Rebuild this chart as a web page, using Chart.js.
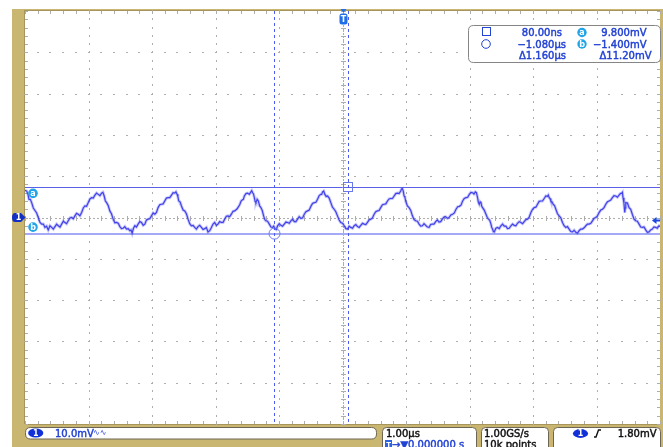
<!DOCTYPE html>
<html>
<head>
<meta charset="utf-8">
<script src="https://cdn.jsdelivr.net/npm/chart.js@4.4.1/dist/chart.umd.min.js"></script>
<style>
  html, body { margin: 0; padding: 0; background: #fff; }
  canvas { display: block; }
</style>
</head>
<body>
<canvas id="scope" width="663" height="447"></canvas>
<script>
// Channel 1 acquisition: time in microseconds, level in millivolts
const timeUs = [
  -5.000, -4.973, -4.955, -4.937, -4.916, -4.895, -4.869, -4.843, -4.817, -4.791,
  -4.764, -4.737, -4.711, -4.686, -4.660, -4.634, -4.607, -4.580, -4.554, -4.528,
  -4.502, -4.476, -4.449, -4.423, -4.397, -4.371, -4.345, -4.319, -4.292, -4.266,
  -4.240, -4.214, -4.188, -4.162, -4.135, -4.108, -4.082, -4.057, -4.031, -4.005,
  -3.978, -3.951, -3.925, -3.899, -3.873, -3.847, -3.820, -3.794, -3.773, -3.753,
  -3.734, -3.715, -3.690, -3.664, -3.638, -3.612, -3.585, -3.558, -3.532, -3.506,
  -3.480, -3.454, -3.428, -3.401, -3.375, -3.349, -3.331, -3.313, -3.292, -3.270,
  -3.245, -3.219, -3.192, -3.165, -3.139, -3.113, -3.087, -3.061, -3.035, -3.008,
  -2.982, -2.956, -2.930, -2.904, -2.878, -2.851, -2.825, -2.799, -2.773, -2.747,
  -2.720, -2.693, -2.668, -2.642, -2.623, -2.605, -2.592, -2.579, -2.558, -2.536,
  -2.510, -2.484, -2.458, -2.432, -2.406, -2.379, -2.353, -2.327, -2.301, -2.275,
  -2.249, -2.222, -2.196, -2.170, -2.144, -2.118, -2.091, -2.064, -2.039, -2.013,
  -1.987, -1.961, -1.934, -1.907, -1.881, -1.855, -1.829, -1.803, -1.777, -1.750,
  -1.724, -1.698, -1.659, -1.619, -1.597, -1.575, -1.561, -1.546, -1.520, -1.494,
  -1.468, -1.442, -1.429, -1.415, -1.402, -1.388, -1.376, -1.363, -1.344, -1.325,
  -1.305, -1.285, -1.264, -1.242, -1.224, -1.206, -1.180, -1.153, -1.127, -1.101,
  -1.083, -1.064, -1.043, -1.022, -0.996, -0.970, -0.944, -0.917, -0.891, -0.865,
  -0.839, -0.813, -0.786, -0.759, -0.734, -0.708, -0.682, -0.656, -0.629, -0.602,
  -0.576, -0.550, -0.524, -0.498, -0.472, -0.445, -0.419, -0.393, -0.367, -0.341,
  -0.328, -0.314, -0.296, -0.278, -0.257, -0.236, -0.210, -0.184, -0.158, -0.131,
  -0.105, -0.079, -0.053, -0.027, 0.000, 0.027, 0.053, 0.079, 0.105, 0.131,
  0.158, 0.184, 0.210, 0.236, 0.262, 0.288, 0.315, 0.341, 0.367, 0.393,
  0.419, 0.445, 0.472, 0.498, 0.524, 0.550, 0.576, 0.602, 0.629, 0.656,
  0.682, 0.708, 0.734, 0.759, 0.786, 0.813, 0.839, 0.865, 0.891, 0.917,
  0.930, 0.943, 0.957, 0.970, 0.983, 0.995, 1.022, 1.049, 1.075, 1.101,
  1.127, 1.153, 1.180, 1.206, 1.232, 1.258, 1.284, 1.310, 1.337, 1.363,
  1.389, 1.415, 1.441, 1.467, 1.494, 1.520, 1.546, 1.572, 1.598, 1.624,
  1.651, 1.678, 1.706, 1.734, 1.761, 1.788, 1.814, 1.840, 1.866, 1.892,
  1.918, 1.945, 1.971, 1.997, 2.023, 2.049, 2.070, 2.091, 2.109, 2.127,
  2.140, 2.154, 2.168, 2.181, 2.193, 2.206, 2.232, 2.259, 2.280, 2.300,
  2.319, 2.338, 2.350, 2.363, 2.376, 2.390, 2.416, 2.442, 2.468, 2.495,
  2.521, 2.547, 2.573, 2.599, 2.626, 2.653, 2.678, 2.704, 2.730, 2.756,
  2.783, 2.810, 2.836, 2.862, 2.888, 2.914, 2.940, 2.967, 2.993, 3.019,
  3.045, 3.071, 3.097, 3.124, 3.150, 3.176, 3.202, 3.228, 3.241, 3.255,
  3.268, 3.281, 3.300, 3.318, 3.339, 3.360, 3.386, 3.412, 3.438, 3.464,
  3.490, 3.517, 3.543, 3.569, 3.595, 3.621, 3.648, 3.675, 3.700, 3.726,
  3.752, 3.778, 3.805, 3.832, 3.858, 3.884, 3.910, 3.936, 3.962, 3.989,
  4.015, 4.041, 4.067, 4.093, 4.119, 4.146, 4.172, 4.198, 4.224, 4.250,
  4.276, 4.303, 4.329, 4.355, 4.376, 4.398, 4.408, 4.418, 4.432, 4.445,
  4.453, 4.461, 4.487, 4.513, 4.539, 4.564, 4.591, 4.618, 4.644, 4.670,
  4.696, 4.722, 4.748, 4.775, 4.801, 4.827, 4.853, 4.879, 4.905, 4.932,
  4.958, 4.984, 5.000
];
const ch1mV = [
  9.1, 8.9, 8.2, 6.9, 6.9, 6.1, 4.8, 4.2, 3.6, 2.5,
  1.3, 0.9, 0.9, 0.1, 0.4, -0.5, 0.5, 0.1, -0.3, 0.3,
  0.9, 0.5, 0.2, 0.9, 1.6, 1.3, 1.0, 1.7, 2.4, 2.5,
  2.2, 2.9, 3.5, 3.3, 2.9, 3.7, 4.8, 5.3, 5.2, 6.1,
  7.0, 7.3, 7.2, 7.9, 8.4, 8.1, 7.8, 8.4, 8.6, 7.7,
  6.5, 6.1, 5.4, 4.1, 3.4, 2.1, 1.2, 1.3, 1.1, 0.3,
  -0.2, -0.1, 0.3, -0.3, -0.2, -0.7, -0.5, -1.3, -0.1, 0.5,
  0.2, 0.9, 1.5, 1.3, 0.6, 0.9, 1.9, 2.1, 2.2, 2.9,
  3.6, 3.3, 3.7, 4.9, 5.6, 5.7, 5.8, 6.5, 7.2, 7.3,
  7.3, 7.9, 8.5, 8.4, 8.7, 8.1, 7.5, 6.5, 6.3, 5.3,
  4.3, 4.1, 3.4, 2.1, 1.0, 0.5, 0.6, 0.1, -0.3, 0.3,
  0.6, 0.1, -0.4, -0.2, 0.1, -1.0, -0.7, 0.1, 0.9, 1.3,
  0.6, 0.9, 1.5, 1.3, 1.3, 2.1, 2.8, 2.9, 2.7, 3.3,
  4.0, 4.1, 4.6, 5.6, 6.5, 6.8, 6.9, 7.7, 8.3, 8.4,
  8.1, 8.7, 9.0, 8.5, 8.2, 7.3, 6.4, 6.1, 6.9, 6.5,
  5.3, 4.9, 4.2, 2.9, 2.0, 1.7, 1.6, 0.9, 0.2, 0.1,
  0.4, -0.2, -0.4, 0.5, 1.0, 0.6, 0.4, 0.9, 1.4, 1.3,
  1.1, 1.7, 2.1, 1.5, 1.5, 2.1, 2.7, 2.3, 2.4, 3.3,
  3.9, 4.1, 4.3, 5.2, 5.9, 6.1, 6.2, 6.9, 7.8, 8.1,
  8.1, 8.7, 8.9, 8.1, 7.6, 7.7, 7.2, 6.1, 5.0, 4.5,
  3.9, 2.9, 1.9, 1.3, 1.1, 0.5, -0.2, -0.3, 0.4, 0.1,
  -0.1, 0.5, 0.8, 0.3, 0.1, 0.6, 1.1, 0.9, 0.8, 1.3,
  1.9, 2.1, 2.4, 3.3, 3.9, 4.1, 4.2, 4.9, 5.6, 5.7,
  5.8, 6.5, 7.0, 7.1, 7.1, 7.7, 8.3, 8.4, 8.3, 8.9,
  9.4, 9.5, 8.9, 7.7, 7.4, 6.5, 5.3, 4.9, 4.2, 2.9,
  2.0, 1.7, 1.6, 0.9, 0.4, 0.5, 1.0, 0.6, 0.2, 0.1,
  0.8, 0.9, 0.9, 1.5, 1.9, 1.4, 1.5, 2.1, 2.6, 2.7,
  2.3, 2.5, 3.1, 3.3, 3.6, 4.5, 5.1, 5.2, 5.5, 6.5,
  7.1, 7.3, 7.4, 8.1, 8.6, 8.5, 8.2, 8.7, 8.5, 7.3,
  6.2, 5.7, 6.3, 6.1, 5.2, 4.9, 4.3, 3.3, 2.5, 2.1,
  1.8, 0.9, 0.1, -0.3, -0.9, -1.0, -0.1, 0.1, -0.2, 0.5,
  0.9, 0.4, 0.4, -0.2, -0.1, 0.5, 0.9, 0.6, 0.5, 1.1,
  1.5, 1.3, 1.0, 1.5, 2.0, 2.1, 2.6, 3.7, 4.5, 4.9,
  5.0, 5.7, 6.4, 6.5, 6.5, 7.1, 7.7, 7.6, 7.9, 7.3,
  7.1, 6.5, 6.3, 5.7, 5.4, 4.5, 3.4, 2.9, 2.4, 1.3,
  0.5, 0.1, 0.3, -0.3, -0.9, -1.0, -0.6, -1.1, -1.3, -0.7,
  -0.3, -0.3, 0.0, 0.5, 0.9, 0.9, 1.1, 1.7, 2.3, 2.5,
  2.9, 3.7, 4.3, 4.5, 4.9, 5.7, 6.3, 6.5, 6.7, 7.3,
  7.8, 7.7, 7.4, 7.9, 8.3, 8.4, 8.6, 7.3, 6.0, 3.7,
  4.8, 6.1, 6.0, 4.9, 4.5, 3.3, 2.1, 1.7, 1.6, 0.9,
  0.2, 0.1, 0.2, -0.5, -1.1, -1.0, -0.5, -0.3, 0.2, 0.1,
  -0.1, 0.5, 0.3
];

// Graticule: 10 horizontal x 10 vertical divisions (1.00 µs/div, 10.0 mV/div)
const timeDivisions = [-5, -4, -3, -2, -1, 0, 1, 2, 3, 4, 5];
const levelDivisions = [-47.5, -37.5, -27.5, -17.5, -7.5, 2.5, 12.5, 22.5, 32.5, 42.5, 52.5];

// Cursors, trigger and channel reference
const timeCursorsUs = [0.08, -1.08];
const levelCursorsMv = [9.8, -1.4];
const triggerTimeUs = 0;
const triggerLevelMv = 1.8;
const ch1ReferenceMv = 2.5;

// Readouts
const timeReadouts = ['80.00ns', '\u22121.080µs', '\u03941.160µs'];
const levelReadouts = ['9.800mV', '\u22121.400mV', '\u039411.20mV'];
const ch1ScaleLabel = '10.0mV';
const timebaseLabel = '1.00µs';
const delayLabel = '0.000000 s';
const sampleRateLabel = '1.00GS/s';
const recordLengthLabel = '10k points';
const triggerLevelLabel = '1.80mV';

const TAN = '#c9b671';
const TAN_EDGE = '#a8955c';
const GRID = '#adadad';
const TEXT_BLUE = '#2242d4';
const FONT = '"DejaVu Sans", sans-serif';

function roundRectPath(ctx, x, y, w, h, r) {
  ctx.beginPath();
  ctx.moveTo(x + r, y);
  ctx.lineTo(x + w - r, y);
  ctx.quadraticCurveTo(x + w, y, x + w, y + r);
  ctx.lineTo(x + w, y + h - r);
  ctx.quadraticCurveTo(x + w, y + h, x + w - r, y + h);
  ctx.lineTo(x + r, y + h);
  ctx.quadraticCurveTo(x, y + h, x, y + h - r);
  ctx.lineTo(x, y + r);
  ctx.quadraticCurveTo(x, y, x + r, y);
  ctx.closePath();
}

function minorSteps(divs, parts) {
  const out = [];
  const step = (divs[1] - divs[0]) / parts;
  const n = (divs.length - 1) * parts;
  for (let i = 0; i <= n; i++) out.push(divs[0] + i * step);
  return out;
}

// text with a hairline outline so it reads as heavy as the instrument font
function heavyText(ctx, text, x, y, color) {
  ctx.fillStyle = color;
  ctx.strokeStyle = color;
  ctx.lineWidth = 0.45;
  ctx.fillText(text, x, y);
  ctx.strokeText(text, x, y);
}

function badge(ctx, cx, cy, r, fill, letter) {
  ctx.beginPath();
  ctx.arc(cx, cy, r, 0, Math.PI * 2);
  ctx.fillStyle = fill;
  ctx.fill();
  ctx.fillStyle = '#fff';
  ctx.font = 'bold 8px ' + FONT;
  ctx.textAlign = 'center';
  ctx.textBaseline = 'middle';
  ctx.fillText(letter, cx, cy + 0.5);
}

const scopeDisplay = {
  id: 'scopeDisplay',
  beforeDraw(chart) {
    const { ctx, chartArea: a, scales: { x, y } } = chart;
    const W = chart.width, H = chart.height;
    ctx.save();
    ctx.fillStyle = '#fff';
    ctx.fillRect(0, 0, W, H);

    // bezel
    ctx.fillStyle = TAN;
    ctx.fillRect(12, 9, a.left - 12, H - 9);
    ctx.fillRect(12, a.bottom, W - 12, H - a.bottom);
    ctx.fillRect(a.left, 9, W - a.left, a.top - 9);
    ctx.fillRect(a.right, 9, W - a.right, H - 9);
    ctx.fillStyle = TAN_EDGE;
    ctx.fillRect(a.left, a.top - 1, a.right - a.left, 1);
    ctx.fillRect(a.left - 1, a.top - 1, 1, a.bottom - a.top + 1);
    ctx.fillRect(a.left, a.bottom, a.right - a.left, 1);

    // graticule
    const mt = minorSteps(timeDivisions, 5);
    const mv = minorSteps(levelDivisions, 5);
    const ft = minorSteps(timeDivisions, 15);
    const fv = minorSteps(levelDivisions, 15);
    const cT = timeDivisions[5], cV = levelDivisions[5];
    const cx = Math.round(x.getPixelForValue(cT));
    const cy = Math.round(y.getPixelForValue(cV));
    ctx.fillStyle = GRID;

    timeDivisions.slice(1, -1).forEach(t => {
      if (t === cT) return;
      const px = Math.round(x.getPixelForValue(t));
      mv.forEach(v => ctx.fillRect(px, Math.round(y.getPixelForValue(v)) - 1, 1, 2));
    });
    levelDivisions.slice(1, -1).forEach(v => {
      if (v === cV) return;
      const py = Math.round(y.getPixelForValue(v));
      mt.forEach(t => ctx.fillRect(Math.round(x.getPixelForValue(t)) - 1, py, 2, 1));
    });

    // centre axes with fine dots and cross ticks
    ft.forEach(t => ctx.fillRect(Math.round(x.getPixelForValue(t)), cy, 2, 1));
    fv.forEach(v => ctx.fillRect(cx, Math.round(y.getPixelForValue(v)), 1, 2));
    mt.forEach(t => ctx.fillRect(Math.round(x.getPixelForValue(t)), cy - 2, 1, 5));
    mv.forEach(v => ctx.fillRect(cx - 2, Math.round(y.getPixelForValue(v)), 5, 1));

    // edge ticks
    mt.forEach(t => {
      const px = Math.round(x.getPixelForValue(t));
      ctx.fillRect(px, a.top, 1, 3);
      ctx.fillRect(px, a.bottom - 3, 1, 3);
    });
    mv.forEach(v => {
      const py = Math.round(y.getPixelForValue(v));
      ctx.fillRect(a.left, py, 3, 1);
      ctx.fillRect(a.right - 3, py, 3, 1);
    });
    ctx.restore();
  },

  beforeDatasetsDraw(chart) {
    const { ctx, chartArea: a, scales: { x, y } } = chart;
    ctx.save();
    // horizontal cursors
    const ya = Math.round(y.getPixelForValue(levelCursorsMv[0])) + 0.5;
    const yb = Math.round(y.getPixelForValue(levelCursorsMv[1]));
    ctx.strokeStyle = '#5b60e8';
    ctx.lineWidth = 1;
    ctx.beginPath(); ctx.moveTo(a.left, ya); ctx.lineTo(a.right, ya); ctx.stroke();
    ctx.strokeStyle = '#a4aaf6';
    ctx.lineWidth = 2;
    ctx.beginPath(); ctx.moveTo(a.left, yb); ctx.lineTo(a.right, yb); ctx.stroke();

    // vertical cursors
    ctx.strokeStyle = '#4c5cf0';
    ctx.lineWidth = 1;
    ctx.setLineDash([3, 3]);
    timeCursorsUs.forEach(t => {
      const px = Math.round(x.getPixelForValue(t)) + 0.5;
      ctx.beginPath(); ctx.moveTo(px, a.top); ctx.lineTo(px, a.bottom); ctx.stroke();
    });
    ctx.restore();
  },

  afterDatasetsDraw(chart) {
    const { ctx, chartArea: a, scales: { x, y } } = chart;
    ctx.save();
    const ya = y.getPixelForValue(levelCursorsMv[0]);
    const yb = y.getPixelForValue(levelCursorsMv[1]);
    const x1 = x.getPixelForValue(timeCursorsUs[0]);
    const x2 = x.getPixelForValue(timeCursorsUs[1]);

    // cursor handles
    ctx.strokeStyle = '#6a78ee';
    ctx.lineWidth = 1;
    ctx.strokeRect(Math.round(x1) - 4.5, Math.round(ya) - 4.5, 9, 9);
    ctx.beginPath();
    ctx.arc(Math.round(x2) + 0.5, yb, 5.5, 0, Math.PI * 2);
    ctx.stroke();

    badge(ctx, 33, ya + 6, 4.8, '#22a4e8', 'a');
    badge(ctx, 33, yb - 6.5, 4.8, '#22a4e8', 'b');

    // channel 1 reference marker
    const yr = y.getPixelForValue(ch1ReferenceMv);
    ctx.fillStyle = '#1230c4';
    ctx.beginPath();
    ctx.moveTo(15, yr - 4.5);
    ctx.lineTo(21, yr - 4.5);
    ctx.lineTo(25.5, yr);
    ctx.lineTo(21, yr + 4.5);
    ctx.lineTo(15, yr + 4.5);
    ctx.quadraticCurveTo(12, yr + 4.5, 12, yr);
    ctx.quadraticCurveTo(12, yr - 4.5, 15, yr - 4.5);
    ctx.fill();
    ctx.fillStyle = '#fff';
    ctx.font = 'bold 8px ' + FONT;
    ctx.textAlign = 'center';
    ctx.textBaseline = 'middle';
    ctx.fillText('1', 18.5, yr + 0.5);

    // trigger position marker
    const xt = Math.round(x.getPixelForValue(triggerTimeUs)) + 0.5;
    ctx.fillStyle = '#1f6ee8';
    ctx.beginPath();
    ctx.moveTo(xt - 3, 9); ctx.lineTo(xt + 3, 9); ctx.lineTo(xt, 12.5); ctx.closePath();
    ctx.fill();
    roundRectPath(ctx, xt - 4, 13.5, 8, 11, 2.5);
    ctx.fill();
    ctx.fillStyle = '#fff';
    ctx.fillText('T', xt, 19.5);

    // trigger level marker
    const yl = Math.round(y.getPixelForValue(triggerLevelMv)) + 0.5;
    ctx.fillStyle = '#1a48e0';
    ctx.beginPath();
    ctx.moveTo(a.right - 8, yl); ctx.lineTo(a.right - 3.5, yl - 3.5); ctx.lineTo(a.right - 3.5, yl + 3.5); ctx.closePath();
    ctx.fill();
    ctx.fillRect(a.right - 4, yl - 1, 4, 2);

    // cursor readout panel
    roundRectPath(ctx, 468.5, 25.5, 192, 37, 5);
    ctx.fillStyle = '#fff';
    ctx.fill();
    ctx.strokeStyle = '#858585';
    ctx.lineWidth = 1;
    ctx.stroke();

    ctx.strokeStyle = TEXT_BLUE;
    ctx.strokeRect(482.5, 27.5, 8, 8);
    ctx.beginPath(); ctx.arc(486, 44, 4.3, 0, Math.PI * 2); ctx.stroke();
    badge(ctx, 582, 32.5, 4.7, '#22a4e8', 'a');
    badge(ctx, 582, 44, 4.7, '#22a4e8', 'b');

    ctx.font = '10px ' + FONT;
    ctx.textBaseline = 'alphabetic';
    ctx.textAlign = 'right';
    heavyText(ctx, timeReadouts[0], 562, 36, TEXT_BLUE);
    heavyText(ctx, timeReadouts[1], 566, 47.5, TEXT_BLUE);
    heavyText(ctx, timeReadouts[2], 566, 59, TEXT_BLUE);
    heavyText(ctx, levelReadouts[0], 646.5, 36, TEXT_BLUE);
    heavyText(ctx, levelReadouts[1], 646.5, 47.5, TEXT_BLUE);
    heavyText(ctx, levelReadouts[2], 651.5, 59, TEXT_BLUE);
    ctx.restore();
  },

  afterDraw(chart) {
    const { ctx } = chart;
    ctx.save();
    ctx.fillStyle = '#fff';
    ctx.strokeStyle = '#6e6652';
    ctx.lineWidth = 1;
    // status bar panels
    [[25.5, 427.5, 351, 11.5, 5], [382.5, 427.5, 94, 24, 4], [481.5, 427.5, 67, 24, 4], [553.5, 427.5, 107, 24, 4]]
      .forEach(([bx, by, bw, bh, r]) => { roundRectPath(ctx, bx, by, bw, bh, r); ctx.fill(); ctx.stroke(); });

    // channel scale
    ctx.fillStyle = '#1230d8';
    ctx.beginPath(); ctx.ellipse(35.7, 433, 7.6, 4.6, 0, 0, Math.PI * 2); ctx.fill();
    ctx.fillStyle = '#fff';
    ctx.font = 'bold 8px ' + FONT;
    ctx.textAlign = 'center'; ctx.textBaseline = 'middle';
    ctx.fillText('1', 35.7, 433.5);
    ctx.textAlign = 'left'; ctx.textBaseline = 'alphabetic';
    ctx.font = '10px ' + FONT;
    heavyText(ctx, ch1ScaleLabel, 55, 437, TEXT_BLUE);
    ctx.font = '8px ' + FONT;
    ctx.fillText('\u223F\u223F', 93, 435);

    // timebase
    ctx.font = '10px ' + FONT;
    heavyText(ctx, timebaseLabel, 386, 437, '#111');
    ctx.fillStyle = '#2a64e0';
    ctx.fillRect(385, 440, 7, 7);
    ctx.fillStyle = '#fff';
    ctx.font = 'bold 7px ' + FONT;
    ctx.fillText('T', 386.3, 446.5);
    ctx.font = '10px ' + FONT;
    heavyText(ctx, '\u2192\u25BC' + delayLabel, 392, 447.5, TEXT_BLUE);

    // acquisition
    heavyText(ctx, sampleRateLabel, 484, 437, '#111');
    heavyText(ctx, recordLengthLabel, 484, 447.5, '#111');

    // trigger
    ctx.fillStyle = '#1230d8';
    ctx.beginPath(); ctx.ellipse(580.5, 433.5, 7.6, 4.4, 0, 0, Math.PI * 2); ctx.fill();
    ctx.fillStyle = '#fff';
    ctx.font = 'bold 8px ' + FONT;
    ctx.textAlign = 'center'; ctx.textBaseline = 'middle';
    ctx.fillText('1', 580.5, 434);
    ctx.strokeStyle = '#111';
    ctx.lineWidth = 1.4;
    ctx.beginPath();
    ctx.moveTo(594, 437); ctx.lineTo(596, 437); ctx.lineTo(598.5, 430); ctx.lineTo(601, 430);
    ctx.stroke();
    ctx.font = '10px ' + FONT;
    ctx.textAlign = 'right'; ctx.textBaseline = 'alphabetic';
    heavyText(ctx, triggerLevelLabel, 656.5, 437, '#111');
    ctx.restore();
  }
};

const ch1Points = timeUs.map((t, i) => ({ x: t, y: ch1mV[i] }));

new Chart(document.getElementById('scope'), {
  type: 'line',
  data: {
    datasets: [
      // phosphor glow under the trace
      { data: ch1Points, borderColor: 'rgba(95,95,240,0.35)', borderWidth: 3, pointRadius: 0, tension: 0, fill: false },
      { data: ch1Points, borderColor: '#3232e8', borderWidth: 1.2, pointRadius: 0, tension: 0, fill: false }
    ]
  },
  options: {
    responsive: false,
    devicePixelRatio: 1,
    animation: false,
    events: [],
    layout: { padding: { left: 25, top: 11, right: 3, bottom: 23 } },
    scales: {
      x: { type: 'linear', min: timeDivisions[0], max: timeDivisions[timeDivisions.length - 1], display: false },
      y: { type: 'linear', min: levelDivisions[0], max: levelDivisions[levelDivisions.length - 1], display: false }
    },
    plugins: { legend: { display: false }, tooltip: { enabled: false } }
  },
  plugins: [scopeDisplay]
});
</script>
</body>
</html>
